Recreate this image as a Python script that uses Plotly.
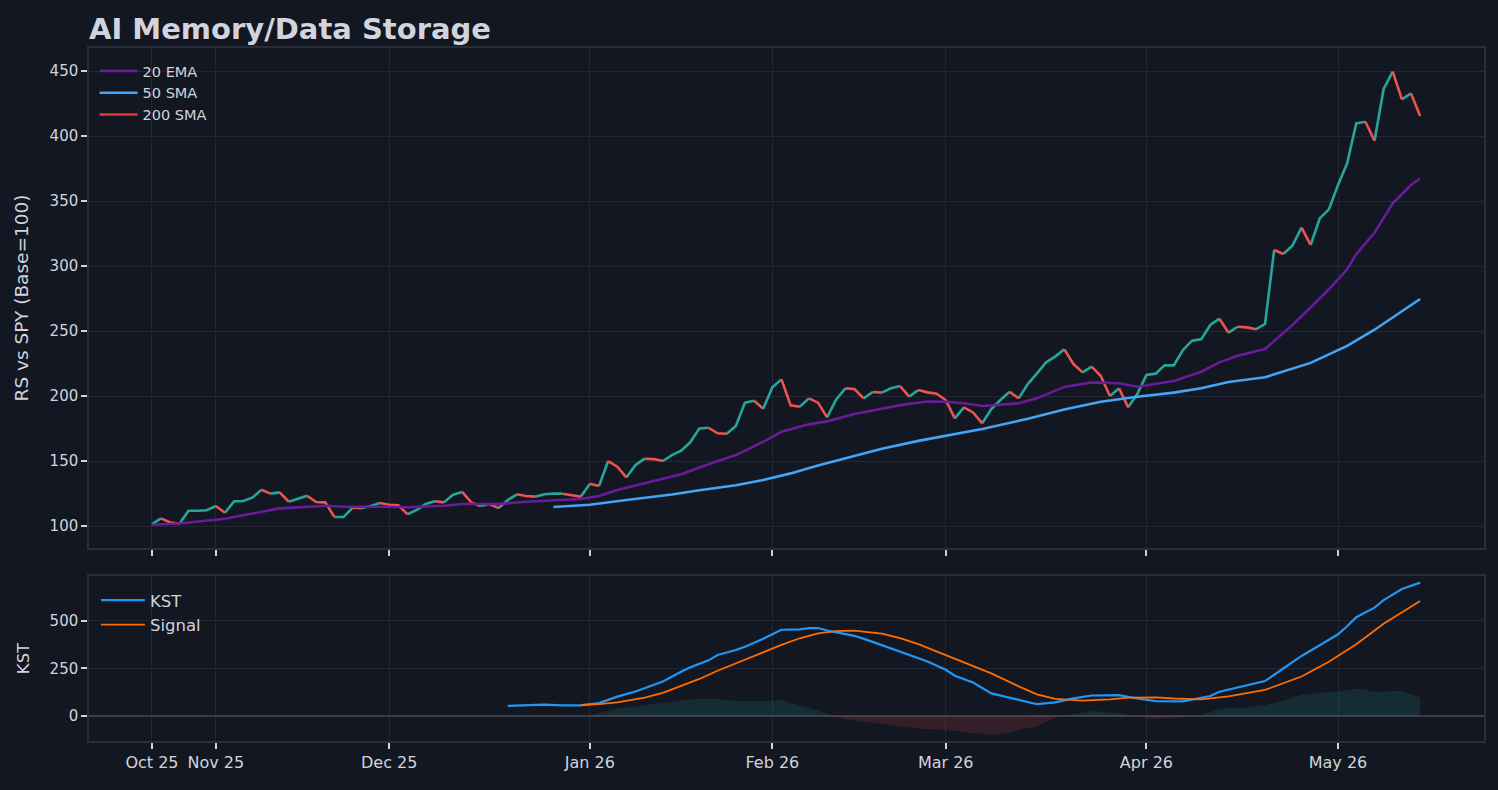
import pandas as pd
import plotly.graph_objects as go

# trading days (NYSE holidays removed)
holidays = ["2025-11-27", "2025-12-25", "2026-01-01", "2026-01-19", "2026-02-16", "2026-04-03"]
dates = pd.bdate_range("2025-10-23", "2026-05-14", freq="C", holidays=holidays)
dates = [d.strftime("%Y-%m-%d") for d in dates]

# relative strength vs SPY, base 100
rs = [
    101.5, 105.9, 102.8, 101.5, 111.8, 111.8, 112.1, 115.4, 110.2, 119.0,
    119.2, 121.8, 127.9, 124.9, 125.9, 118.7, 120.8, 123.3, 118.5, 118.2,
    106.9, 106.9, 114.1, 113.8, 115.4, 117.7, 116.4, 116.0, 109.1, 112.3,
    116.9, 119.0, 118.2, 124.1, 126.2, 118.2, 115.4, 116.9, 113.8, 120.0,
    124.4, 123.1, 122.6, 124.4, 124.9, 124.9, 123.8, 122.6, 132.6, 130.8,
    150.0, 145.6, 137.4, 146.9, 151.8, 151.5, 150.0, 154.5, 157.9, 164.4,
    175.1, 175.6, 171.3, 171.0, 176.9, 194.9, 196.4, 190.2, 206.7, 212.8,
    192.8, 191.8, 198.2, 194.9, 183.6, 197.4, 205.9, 205.4, 198.2, 203.1,
    202.6, 205.9, 207.7, 199.5, 204.6, 202.8, 201.8, 196.9, 182.8, 191.3,
    187.4, 179.0, 190.0, 196.9, 203.3, 198.2, 209.2, 217.4, 225.9, 230.3,
    235.9, 224.6, 218.2, 222.6, 215.4, 200.0, 205.9, 191.3, 201.5, 216.2,
    217.2, 223.6, 223.6, 235.4, 242.6, 243.6, 254.6, 259.5, 248.7, 253.3,
    252.8, 251.3, 255.4, 312.3, 309.2, 315.6, 329.5, 316.2, 336.7, 343.6,
    362.3, 379.0, 409.8, 411.0, 396.4, 436.2, 449.5, 428.2, 432.8, 415.4,
]

# moving averages (read at trading-day index)
ema_idx = [0, 3, 8, 14, 19, 21, 25, 28, 32, 34, 38, 41, 47, 49, 51, 54, 58, 61, 64, 67,
           69, 72, 74, 77, 80, 82, 85, 87, 89, 91, 95, 97, 100, 103, 106, 108, 112, 115, 117, 119,
           122, 125, 127, 129, 131, 132, 134, 136, 138, 139]
ema_val = [101.0, 102.0, 105.6, 113.6, 115.6, 114.8, 114.8, 114.4, 115.6, 116.9, 116.9, 118.7, 120.8, 123.1, 127.7, 133.0, 139.8, 147.5, 154.6, 164.8,
           172.5, 178.2, 180.5, 186.2, 190.2, 193.0, 195.8, 195.6, 194.4, 192.3, 194.4, 198.2, 207.0, 210.5, 209.8, 207.2, 211.5, 218.7, 225.9, 231.0,
           236.2, 254.6, 268.2, 282.1, 297.5, 309.2, 325.6, 348.2, 362.3, 367.4]
sma50_idx = [44, 48, 52, 55, 57, 60, 64, 67, 70, 73, 77, 80, 84, 88, 91, 96, 100, 104, 108, 112,
             115, 118, 122, 127, 131, 134, 139]
sma50_val = [114.6, 116.4, 120.0, 122.5, 124.2, 127.5, 131.3, 135.4, 140.5, 146.5, 153.8, 159.5, 165.5, 170.5, 174.6, 182.5, 189.7, 195.6, 199.5, 202.6,
             206.0, 210.8, 214.4, 225.5, 238.5, 251.0, 274.6]
sma200_idx = [0]      # not enough history: no values yet
sma200_val = [None]

# KST oscillator
kst_idx = [39, 41, 43, 45, 47, 49, 51, 53, 55, 56, 58, 59, 61, 62, 64, 65, 67, 69, 71, 72,
           73, 74, 76, 77, 79, 81, 83, 85, 87, 88, 90, 92, 95, 97, 99, 101, 103, 106, 108, 110,
           113, 116, 117, 119, 122, 124, 126, 128, 130, 131, 132, 134, 135, 137, 139]
kst_val = [53, 58, 60, 56, 56, 68, 102, 129, 164, 182, 233, 256, 293, 321, 347, 364, 407, 454, 456, 462,
           463, 450, 431, 422, 390, 356, 319, 287, 243, 212, 176, 119, 85, 62, 72, 93, 108, 110, 92, 78,
           77, 105, 128, 150, 184, 250, 316, 372, 430, 472, 520, 570, 610, 668, 702]
sig_idx = [47, 49, 51, 54, 56, 58, 60, 62, 65, 67, 69, 71, 73, 75, 77, 80, 82, 84, 87, 89,
           92, 95, 97, 99, 102, 105, 107, 110, 112, 115, 118, 122, 126, 129, 132, 135, 137, 139]
sig_val = [58, 62, 72, 97, 122, 158, 195, 238, 297, 337, 374, 409, 435, 447, 449, 434, 410, 378, 320, 280,
           224, 156, 114, 90, 81, 88, 97, 98, 92, 88, 103, 137, 208, 285, 378, 485, 545, 605]
hist_idx = [48, 49, 51, 54, 56, 59, 62, 64, 66, 69, 71, 73, 74, 75, 76, 80, 84, 87, 89, 92,
            94, 97, 99, 100, 103, 106, 107, 108, 110, 114, 115, 117, 120, 122, 124, 126, 128, 130, 132, 134,
            137, 139]
hist_val = [2, 14, 40, 56, 68, 88, 91, 79, 77, 84, 55, 30, 8, -5, -17, -42, -66, -74, -85, -100,
            -85, -52, -9, 2, 26, 16, 3, -3, -14, -3, 2, 38, 45, 56, 80, 112, 122, 128, 145, 128,
            131, 96]

BG = "#131722"
TXT = "#d1d4dc"
GRID = "rgba(42,46,57,0.75)"
FRAME = "#2a2e39"
FONT = "DejaVu Sans"


def pick(idx):
    return [dates[i] for i in idx]


def runs(vals, up):
    # split the RS line into rising / falling runs
    xs, ys = [], []
    for i in range(1, len(vals)):
        if (vals[i] >= vals[i - 1]) != up:
            continue
        if xs and xs[-1] == dates[i - 1]:
            xs.append(dates[i]); ys.append(vals[i])
        else:
            if xs:
                xs.append(None); ys.append(None)
            xs += [dates[i - 1], dates[i]]
            ys += [vals[i - 1], vals[i]]
    return xs, ys


fig = go.Figure()

# KST histogram fill
fig.add_trace(go.Scatter(x=pick(hist_idx), y=[max(v, 0) for v in hist_val], mode="lines",
                         line=dict(width=0, color="rgba(0,0,0,0)"), fill="tozeroy",
                         fillcolor="rgba(38,166,154,0.15)", xaxis="x2", yaxis="y2",
                         showlegend=False, hoverinfo="skip"))
fig.add_trace(go.Scatter(x=pick(hist_idx), y=[min(v, 0) for v in hist_val], mode="lines",
                         line=dict(width=0, color="rgba(0,0,0,0)"), fill="tozeroy",
                         fillcolor="rgba(239,83,80,0.15)", xaxis="x2", yaxis="y2",
                         showlegend=False, hoverinfo="skip"))
fig.add_trace(go.Scatter(x=pick(kst_idx), y=kst_val, mode="lines", name="KST",
                         line=dict(color="#2196f3", width=2.2), xaxis="x2", yaxis="y2",
                         legend="legend2"))
fig.add_trace(go.Scatter(x=pick(sig_idx), y=sig_val, mode="lines", name="Signal",
                         line=dict(color="#ff6d00", width=1.8), xaxis="x2", yaxis="y2",
                         legend="legend2"))

# RS line coloured by direction
ux, uy = runs(rs, True)
dx, dy = runs(rs, False)
fig.add_trace(go.Scatter(x=ux, y=uy, mode="lines", line=dict(color="#26a69a", width=2.6),
                         connectgaps=False, showlegend=False))
fig.add_trace(go.Scatter(x=dx, y=dy, mode="lines", line=dict(color="#ef5350", width=2.6),
                         connectgaps=False, showlegend=False))

fig.add_trace(go.Scatter(x=pick(ema_idx), y=ema_val, mode="lines", name="20 EMA",
                         line=dict(color="#6a1b9a", width=2.6)))
fig.add_trace(go.Scatter(x=pick(sma50_idx), y=sma50_val, mode="lines", name="50 SMA",
                         line=dict(color="#42a5f5", width=2.6)))
fig.add_trace(go.Scatter(x=pick(sma200_idx), y=sma200_val, mode="lines", name="200 SMA",
                         line=dict(color="#e53935", width=2.6), showlegend=True))

# month ticks at first trading day of each month
tick_vals, tick_text = [], []
for d in dates:
    lab = pd.Timestamp(d).strftime("%b %y")
    if lab not in tick_text:
        tick_vals.append(d)
        tick_text.append(lab)

xcommon = dict(type="category", categoryorder="array", categoryarray=dates,
               range=[-6.9, 146.0], tickmode="array", tickvals=tick_vals, ticktext=tick_text,
               showgrid=True, gridcolor=GRID, gridwidth=1,
               showline=True, mirror=True, linecolor=FRAME, linewidth=1.5,
               ticks="outside", ticklen=6, tickwidth=1.5, tickcolor=TXT,
               tickfont=dict(family=FONT, size=16, color=TXT), zeroline=False)
ycommon = dict(showgrid=True, gridcolor=GRID, gridwidth=1,
               showline=True, mirror=True, linecolor=FRAME, linewidth=1.5,
               ticks="outside", ticklen=6, tickwidth=1.5, tickcolor=TXT,
               tickfont=dict(family=FONT, size=15, color=TXT))

fig.update_layout(
    width=1498, height=790,
    paper_bgcolor=BG, plot_bgcolor=BG,
    margin=dict(l=89, r=14, t=48, b=49),
    font=dict(family=FONT, color=TXT),
    title=dict(text="<b>AI Memory/Data Storage</b>", x=0, xref="paper", xanchor="left",
               y=1 - 29 / 790, yref="container", yanchor="middle",
               font=dict(family=FONT, size=29, color=TXT)),
    xaxis=dict(**xcommon, domain=[0, 1], anchor="y", showticklabels=False),
    yaxis=dict(**ycommon, domain=[0.2785, 1], anchor="x", range=[83.1, 467.7],
               tickvals=[100, 150, 200, 250, 300, 350, 400, 450], zeroline=False,
               title=dict(text="RS vs SPY (Base=100)", standoff=16,
                          font=dict(family=FONT, size=18.5, color=TXT))),
    xaxis2=dict(**xcommon, domain=[0, 1], anchor="y2", matches="x"),
    yaxis2=dict(**ycommon, domain=[0, 0.2381], anchor="x2", range=[-131.6, 736.8],
                tickvals=[0, 250, 500], zeroline=True, zerolinecolor="#3a3e4a", zerolinewidth=2,
                title=dict(text="KST", standoff=16, font=dict(family=FONT, size=16.5, color=TXT))),
    legend=dict(x=0.004, y=0.99, xanchor="left", yanchor="top", bgcolor="rgba(0,0,0,0)",
                font=dict(family=FONT, size=14.5, color=TXT), tracegroupgap=0, itemwidth=38),
    legend2=dict(x=0.005, y=0.228, xanchor="left", yanchor="top", bgcolor="rgba(0,0,0,0)",
                 font=dict(family=FONT, size=16.5, color=TXT), tracegroupgap=0, itemwidth=44),
    showlegend=True,
)

fig.write_html("out.html", config={"displayModeBar": False},
               post_script="document.body.style.margin='0';document.body.style.background='#131722';")
